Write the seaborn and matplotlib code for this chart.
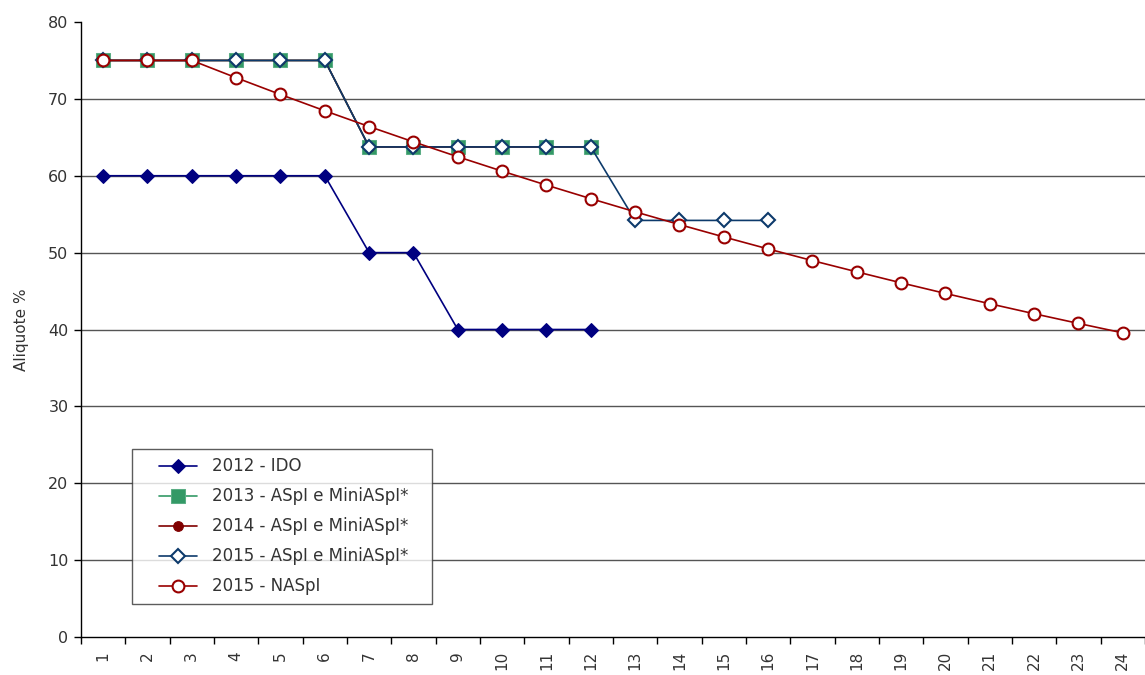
import matplotlib
matplotlib.use("Agg")
import matplotlib.pyplot as plt
import seaborn as sns
import pandas as pd
import numpy as np
from matplotlib.ticker import FixedLocator
from matplotlib.legend_handler import HandlerLine2D

sns.set_style("white")
plt.rcParams['font.family'] = ['DejaVu Sans']

# Rate tables per scheme (aliquote %, by installment number)
periods = list(range(1, 25))
ido_2012 = [60, 60, 60, 60, 60, 60, 50, 50, 40, 40, 40, 40]
aspi_2013 = [75, 75, 75, 75, 75, 75, 63.75, 63.75, 63.75, 63.75, 63.75, 63.75]
aspi_2014 = [75, 75, 75, 75, 75, 75, 63.75, 63.75, 63.75, 63.75, 63.75, 63.75]
aspi_2015 = [75, 75, 75, 75, 75, 75, 63.75, 63.75, 63.75, 63.75, 63.75, 63.75,
             54.19, 54.19, 54.19, 54.19]
naspi_2015 = [75, 75, 75, 72.75, 70.57, 68.45, 66.40, 64.41, 62.47, 60.60,
              58.78, 57.02, 55.31, 53.65, 52.04, 50.48, 48.96, 47.50, 46.07,
              44.69, 43.35, 42.05, 40.79, 39.56]

labels = ["2012 - IDO", "2013 - ASpI e MiniASpI*", "2014 - ASpI e MiniASpI*",
          "2015 - ASpI e MiniASpI*", "2015 - NASpI"]
series = [ido_2012, aspi_2013, aspi_2014, aspi_2015, naspi_2015]

styles = [
    dict(color="#000080", marker="D", markersize=7.5, markerfacecolor="#000080",
         markeredgecolor="#000080"),
    dict(color="#339966", marker="s", markersize=9.5, markerfacecolor="#339966",
         markeredgecolor="#5aad84"),
    dict(color="#800000", marker="o", markersize=7, markerfacecolor="#800000",
         markeredgecolor="#800000"),
    dict(color="#0d3a6b", marker="D", markersize=7.5, markerfacecolor="white",
         markeredgecolor="#0d3a6b", markeredgewidth=1.5),
    dict(color="#990000", marker="o", markersize=8.5, markerfacecolor="white",
         markeredgecolor="#990000", markeredgewidth=1.5),
]


class ShortLineHandler(HandlerLine2D):
    """Legend handle whose line is shorter and sits right next to the text."""

    def get_xdata(self, legend, xdescent, ydescent, width, height, fontsize):
        x0 = -xdescent + width * 0.33
        x1 = -xdescent + width
        return np.array([x0, x1]), np.array([(x0 + x1) / 2])


fig = plt.figure(figsize=(11.45, 6.75), dpi=100)
ax = fig.add_axes([0.0707, 0.0563, 0.9293, 0.9111])

for lab, vals, st in zip(labels, series, styles):
    df = pd.DataFrame({"x": periods[:len(vals)], "y": vals})
    sns.lineplot(data=df, x="x", y="y", ax=ax, label=lab, linewidth=1.2,
                 **st)

ax.set_xlim(0.5, 24.5)
ax.set_ylim(0, 80)
ax.set_yticks(range(0, 81, 10))
ax.set_xticks(periods)
ax.set_xticklabels([str(p) for p in periods], rotation=90)
ax.xaxis.set_minor_locator(FixedLocator(np.arange(0.5, 25, 1)))
ax.tick_params(axis="x", which="major", length=0, pad=10, labelsize=11,
               labelcolor="#333333")
ax.tick_params(axis="x", which="minor", length=5, width=1, color="black",
               direction="out", bottom=True)
ax.tick_params(axis="y", length=5, width=1, color="black", direction="out",
               left=True, labelsize=11.5, labelcolor="#333333", pad=4)

for yv in range(10, 80, 10):
    ax.axhline(yv, color="#555555", linewidth=1.0, zorder=0)

for side in ["top", "right"]:
    ax.spines[side].set_visible(False)
for side in ["left", "bottom"]:
    ax.spines[side].set_color("black")
    ax.spines[side].set_linewidth(1.0)

ax.set_xlabel("")
ax.set_ylabel("Aliquote %", fontsize=11, color="#333333", labelpad=14)

handles, leg_labels = ax.get_legend_handles_labels()
leg = ax.legend(handles, leg_labels, loc="lower left", mode="expand",
                bbox_to_anchor=(0.048, 0.054, 0.282, 0.25), fontsize=12,
                frameon=True, fancybox=False, edgecolor="#333333",
                borderpad=0.5, labelspacing=0.72, handlelength=3.4,
                handletextpad=0.9, borderaxespad=0,
                handler_map={h: ShortLineHandler() for h in handles})
leg.get_frame().set_linewidth(1.0)
for t in leg.get_texts():
    t.set_color("#333333")

fig.savefig("out.png", dpi=100)
